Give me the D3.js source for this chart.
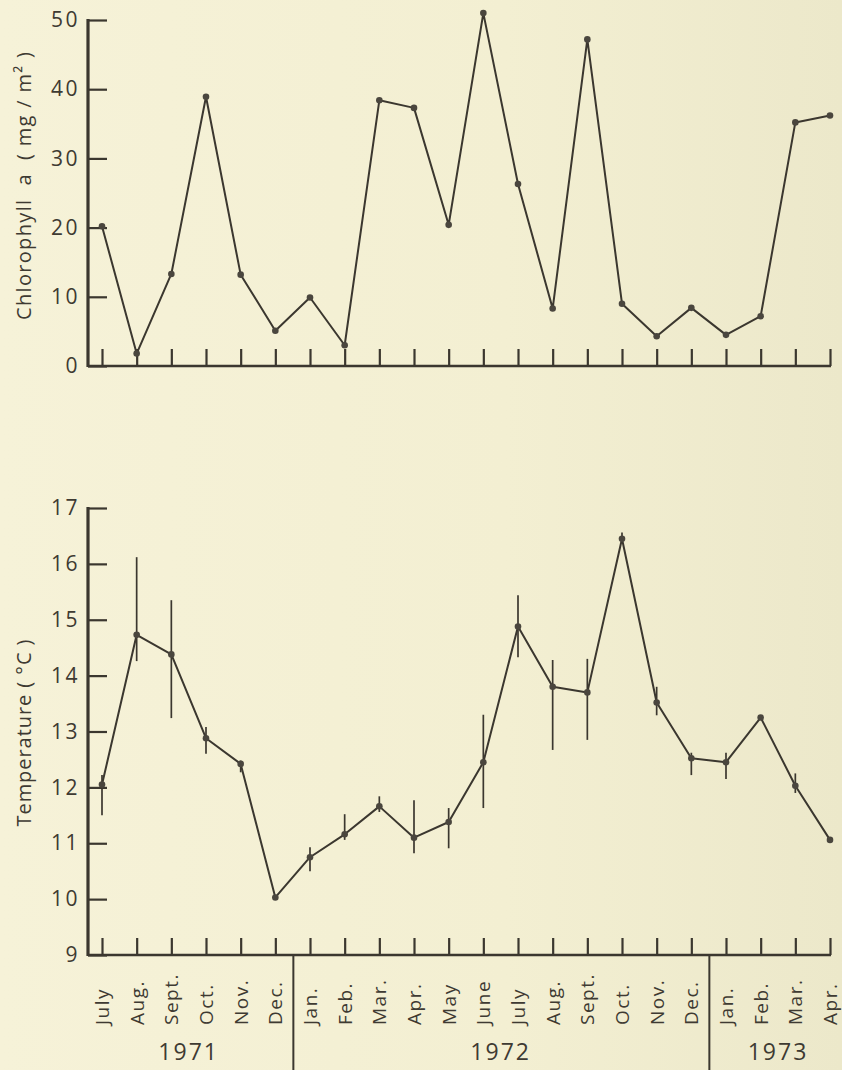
<!DOCTYPE html>
<html>
<head>
<meta charset="utf-8">
<script src="https://cdn.jsdelivr.net/npm/d3@7"></script>
<style>
  html, body { margin: 0; padding: 0; background: #f4f0d4; }
  svg { display: block; }
  text { font-family: "Open Sans", "Lato", sans-serif; fill: #3e3a32; }
</style>
</head>
<body>
<svg id="chart" width="842" height="1070"></svg>
<script>
// Monthly sampling, July 1971 – April 1973
const months = ["July","Aug.","Sept.","Oct.","Nov.","Dec.","Jan.","Feb.","Mar.","Apr.","May","June",
                "July","Aug.","Sept.","Oct.","Nov.","Dec.","Jan.","Feb.","Mar.","Apr."];
const yearLabels = ["1971", "1972", "1973"];
const yearFirst  = [0, 6, 18];
const yearLast   = [5, 17, 21];

// Chlorophyll a (mg/m²)
const chlorophyll = [20.2, 1.8, 13.3, 38.9, 13.2, 5.1, 9.9, 3.0, 38.4, 37.3, 20.4, 51.0,
                     26.3, 8.3, 47.2, 9.0, 4.3, 8.4, 4.5, 7.2, 35.2, 36.2];
const chlTicks = [0, 10, 20, 30, 40, 50];

// Temperature (°C) with range bars (null = no bar)
const temperature = [12.05, 14.73, 14.38, 12.88, 12.42, 10.03, 10.75, 11.16, 11.66, 11.1, 11.38, 12.45,
                     14.88, 13.8, 13.7, 16.45, 13.52, 12.52, 12.45, 13.25, 12.03, 11.06];
const tempHigh = [12.22, 16.12, 15.35, 13.08, 12.48, null, 10.93, 11.52, 11.84, 11.77, 11.63, 13.3,
                  15.44, 14.28, 14.3, 16.56, 13.8, 12.62, 12.62, null, 12.25, null];
const tempLow  = [11.5, 14.26, 13.24, 12.6, 12.27, null, 10.5, 11.06, 11.56, 10.82, 10.91, 11.63,
                  14.33, 12.67, 12.85, 16.4, 13.29, 12.22, 12.15, null, 11.9, null];
const tempTicks = [9, 10, 11, 12, 13, 14, 15, 16, 17];

const ink = "#3b372f";
const svg = d3.select("#chart");

// soft paper tone
const defs = svg.append("defs");
const grad = defs.append("linearGradient").attr("id", "paper").attr("x1", "0").attr("x2", "1").attr("y1", "0").attr("y2", "0");
grad.append("stop").attr("offset", "0").attr("stop-color", "#f6f2d8");
grad.append("stop").attr("offset", "0.6").attr("stop-color", "#f3efd2");
grad.append("stop").attr("offset", "1").attr("stop-color", "#ece8ca");
svg.append("rect").attr("width", 842).attr("height", 1070).attr("fill", "url(#paper)");

const axisX = 88, axisRight = 830;
const x = d3.scaleLinear().domain([0, months.length - 1]).range([102, 830]);
const yChl = d3.scaleLinear().domain([0, 50]).range([366, 20]);
const yTemp = d3.scaleLinear().domain([9, 17]).range([955, 508]);

function drawFrame(y, ticks, bottomVal) {
  const yAxis = d3.axisLeft(y).tickValues(ticks).tickSizeInner(-19).tickSizeOuter(0).tickPadding(8)
    .tickFormat(d3.format("d"));
  const g = svg.append("g").attr("transform", `translate(${axisX},0)`).call(yAxis);
  g.select(".domain").remove();
  g.selectAll(".tick line").attr("stroke", ink).attr("stroke-width", 2.2);
  g.selectAll(".tick text").attr("font-size", 21).attr("letter-spacing", "2.5px").attr("fill", "#3e3a32")
    .style("font-family", "'Open Sans', sans-serif");
  // vertical axis line
  svg.append("line").attr("x1", axisX).attr("x2", axisX)
    .attr("y1", y(bottomVal) + 1).attr("y2", y(ticks[ticks.length - 1]) - 1)
    .attr("stroke", ink).attr("stroke-width", 3.2);
  // horizontal axis line
  svg.append("line").attr("x1", axisX).attr("x2", axisRight + 1)
    .attr("y1", y(bottomVal)).attr("y2", y(bottomVal))
    .attr("stroke", ink).attr("stroke-width", 2.6);
  // month ticks pointing up
  const xAxis = d3.axisBottom(x).tickValues(d3.range(months.length)).tickSizeInner(-17).tickSizeOuter(0).tickFormat("");
  const gx = svg.append("g").attr("transform", `translate(0,${y(bottomVal)})`).call(xAxis);
  gx.select(".domain").remove();
  gx.selectAll(".tick line").attr("stroke", ink).attr("stroke-width", 2.2);
}

function drawSeries(y, values) {
  const line = d3.line().x((d, i) => x(i)).y(d => y(d));
  svg.append("path").datum(values).attr("d", line)
    .attr("fill", "none").attr("stroke", ink).attr("stroke-width", 2).attr("stroke-linejoin", "round");
  svg.append("g").selectAll("circle").data(values).join("circle")
    .attr("cx", (d, i) => x(i)).attr("cy", d => y(d)).attr("r", 3.3).attr("fill", "#4a463e");
}

// ---- Chlorophyll panel ----
drawFrame(yChl, chlTicks, 0);
drawSeries(yChl, chlorophyll);
svg.append("text")
  .attr("transform", `translate(31,186) rotate(-90)`)
  .attr("text-anchor", "middle").attr("font-size", 20)
  .attr("textLength", 268).attr("lengthAdjust", "spacing")
  .style("white-space", "pre")
  .text("Chlorophyll  a  ( mg / m² )");

// ---- Temperature panel ----
drawFrame(yTemp, tempTicks, 9);
const bars = temperature.map((v, i) => ({ i, lo: tempLow[i], hi: tempHigh[i] })).filter(d => d.lo !== null);
svg.append("g").selectAll("line").data(bars).join("line")
  .attr("x1", d => x(d.i)).attr("x2", d => x(d.i))
  .attr("y1", d => yTemp(d.hi)).attr("y2", d => yTemp(d.lo))
  .attr("stroke", ink).attr("stroke-width", 1.7);
drawSeries(yTemp, temperature);
svg.append("text")
  .attr("transform", `translate(31,733) rotate(-90)`)
  .attr("text-anchor", "middle").attr("font-size", 20)
  .attr("textLength", 187).attr("lengthAdjust", "spacing")
  .style("white-space", "pre")
  .text("Temperature ( °C )");

// month labels, reading upward
svg.append("g").selectAll("text").data(months).join("text")
  .attr("transform", (d, i) => `translate(${x(i)},1025) rotate(-90)`)
  .attr("dy", "0.36em").attr("text-anchor", "start")
  .attr("font-size", 19).attr("letter-spacing", "1.5px")
  .text(d => d);

// year separators and labels
const seps = yearFirst.slice(1);
svg.append("g").selectAll("line").data(seps).join("line")
  .attr("x1", d => x(d - 0.48)).attr("x2", d => x(d - 0.48))
  .attr("y1", yTemp(9)).attr("y2", 1070)
  .attr("stroke", ink).attr("stroke-width", 2);
svg.append("g").selectAll("text").data(yearLabels).join("text")
  .attr("x", (d, i) => (x(yearFirst[i]) + x(yearLast[i])) / 2)
  .attr("y", 1060).attr("text-anchor", "middle")
  .attr("font-size", 23).attr("letter-spacing", "2px")
  .text(d => d);
</script>
</body>
</html>
